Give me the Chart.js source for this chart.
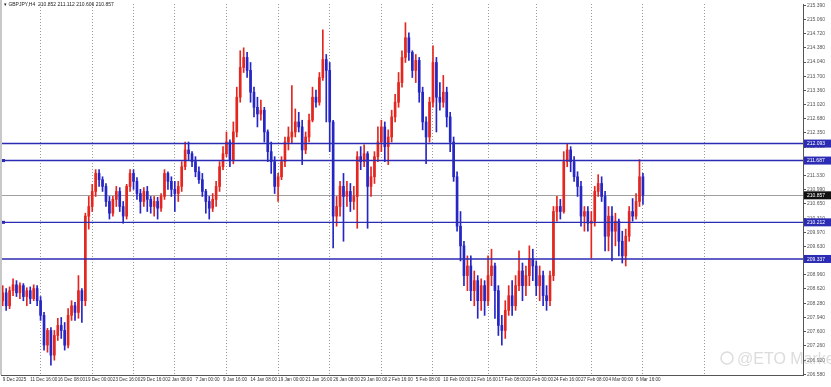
<!DOCTYPE html>
<html>
<head>
<meta charset="utf-8">
<script src="https://cdn.jsdelivr.net/npm/chart.js@4.4.1/dist/chart.umd.min.js"></script>
<style>
  html, body { margin: 0; padding: 0; background: #fff; }
  #chart { display: block; }
</style>
</head>
<body>
<canvas id="chart" width="831" height="387"></canvas>
<script>
// GBPJPY H4, each candle here = two H4 bars
const symbol = "GBPJPY,H4";
const headerPrices = ["210.852", "211.112", "210.606", "210.857"];

const open0 = 208.34;
const closes = [
    208.53, 208.22, 208.58, 208.72, 208.53, 208.70, 208.44, 208.58, 208.39, 208.63,
    208.34, 207.99, 207.28, 207.63, 207.04, 207.51, 207.75, 207.63, 207.28, 207.99,
    208.22, 208.06, 208.58, 208.34, 210.36, 210.59, 210.95, 211.38, 211.23, 211.07,
    210.71, 210.43, 210.76, 210.95, 210.59, 210.36, 211.07, 211.38, 211.19, 210.90,
    210.71, 210.95, 210.76, 210.59, 210.71, 210.55, 210.83, 211.38, 211.19, 211.00,
    210.90, 211.07, 211.54, 211.94, 211.85, 211.66, 211.42, 211.23, 210.95, 210.71,
    210.55, 210.76, 211.07, 211.54, 211.85, 212.13, 211.71, 212.37, 213.20, 213.91,
    214.15, 213.84, 213.32, 212.96, 212.80, 212.89, 212.37, 211.90, 211.66, 211.07,
    211.30, 211.66, 212.13, 212.25, 212.37, 212.61, 212.49, 211.94, 212.25, 212.65,
    213.20, 213.08, 213.67, 214.10, 213.84, 212.61, 210.36, 210.59, 211.07, 210.83,
    210.95, 210.71, 210.83, 211.78, 211.66, 211.85, 211.07, 211.30, 211.78, 212.13,
    212.49, 212.02, 212.25, 212.73, 213.08, 213.55, 214.15, 214.62, 214.27, 213.84,
    214.08, 213.32, 212.61, 212.25, 213.08, 214.03, 213.20, 213.08, 213.32, 212.73,
    212.13, 211.30, 210.12, 209.65, 208.94, 209.17, 208.58, 208.82, 208.34, 208.70,
    208.34, 208.94, 209.17, 208.58, 207.75, 207.63, 208.11, 208.46, 208.22, 208.70,
    209.05, 208.70, 208.94, 209.34, 209.17, 208.70, 208.94, 208.46, 208.34, 208.94,
    210.47, 210.59, 210.47, 211.66, 211.94, 211.66, 211.30, 211.07, 210.36, 210.47,
    210.19, 210.24, 210.95, 211.14, 210.83, 209.88, 210.36, 210.00, 210.24, 209.76,
    209.41, 209.88, 210.47, 210.36, 210.71, 211.30, 210.86
];
const highs = [
    208.70, 208.63, 208.67, 208.86, 208.82, 208.77, 208.75, 208.65, 208.67, 208.72,
    208.70, 208.44, 208.06, 207.68, 207.70, 207.63, 207.92, 207.94, 207.82, 208.15,
    208.34, 208.30, 208.94, 208.63, 210.43, 210.83, 211.12, 211.47, 211.47, 211.30,
    211.14, 210.83, 210.83, 211.07, 211.04, 210.71, 211.12, 211.47, 211.47, 211.28,
    211.00, 211.04, 211.07, 210.83, 210.83, 210.81, 210.90, 211.47, 211.42, 211.30,
    211.19, 211.19, 211.66, 212.13, 212.13, 211.90, 211.78, 211.54, 211.38, 211.00,
    210.83, 210.90, 211.19, 211.66, 212.02, 212.37, 212.18, 212.61, 213.44, 214.31,
    214.38, 214.27, 214.03, 213.44, 213.20, 213.13, 212.96, 212.42, 212.13, 211.78,
    211.38, 211.78, 212.25, 212.49, 213.48, 212.92, 212.84, 212.65, 212.37, 212.80,
    213.44, 213.37, 213.79, 214.81, 214.22, 214.03, 212.65, 210.83, 211.19, 211.38,
    211.19, 211.14, 211.07, 211.90, 212.02, 212.06, 211.90, 211.54, 211.90, 212.49,
    212.65, 212.61, 212.42, 212.89, 213.27, 213.79, 214.31, 214.98, 214.74, 214.31,
    214.22, 214.15, 213.44, 212.73, 213.20, 214.43, 214.15, 213.55, 213.72, 213.44,
    212.84, 212.25, 211.42, 210.47, 209.76, 209.41, 209.41, 209.05, 208.94, 208.86,
    208.82, 209.41, 209.57, 209.24, 208.70, 207.99, 208.34, 208.70, 208.82, 208.94,
    209.53, 209.24, 209.17, 209.65, 209.57, 209.29, 209.17, 209.05, 208.70, 209.05,
    210.59, 210.83, 210.76, 211.90, 212.09, 212.02, 211.78, 211.42, 211.19, 210.59,
    210.59, 210.47, 211.07, 211.35, 211.30, 210.95, 210.59, 210.59, 210.43, 210.29,
    210.00, 210.05, 210.59, 210.78, 210.90, 211.71, 211.38
];
const lows = [
    208.22, 208.11, 208.15, 208.46, 208.44, 208.39, 208.34, 208.22, 208.27, 208.34,
    208.22, 207.87, 207.16, 207.11, 206.80, 206.92, 207.39, 207.44, 207.16, 207.21,
    207.87, 207.87, 207.92, 207.82, 208.22, 210.05, 210.47, 210.83, 211.07, 210.95,
    210.59, 210.29, 210.36, 210.59, 210.47, 210.19, 210.29, 210.95, 211.00, 210.76,
    210.43, 210.59, 210.47, 210.43, 210.36, 210.29, 210.47, 210.76, 211.00, 210.83,
    210.47, 210.71, 210.95, 211.47, 211.71, 211.54, 211.30, 211.14, 210.83, 210.43,
    210.29, 210.47, 210.59, 210.95, 211.47, 211.78, 211.54, 211.61, 212.25, 213.08,
    213.79, 213.67, 213.08, 212.73, 212.49, 212.65, 212.13, 211.66, 211.38, 210.90,
    210.71, 211.23, 211.54, 211.94, 212.09, 212.25, 212.37, 211.59, 211.85, 212.13,
    212.61, 212.96, 213.01, 213.60, 212.61, 211.90, 209.60, 210.12, 210.36, 209.76,
    210.59, 210.47, 210.52, 210.07, 211.47, 211.54, 210.07, 210.83, 211.14, 211.66,
    211.90, 211.66, 211.59, 212.13, 212.61, 212.96, 213.44, 214.03, 214.08, 213.67,
    213.55, 213.08, 212.42, 211.61, 212.13, 212.96, 212.37, 212.89, 212.96, 212.49,
    211.90, 211.19, 210.00, 209.29, 208.70, 208.58, 208.34, 208.22, 207.92, 208.11,
    207.99, 208.22, 208.70, 207.92, 207.51, 207.28, 207.44, 207.99, 207.99, 208.11,
    208.58, 208.34, 208.46, 208.70, 208.82, 208.46, 208.34, 208.22, 208.11, 208.22,
    208.82, 210.24, 210.29, 210.43, 211.54, 211.42, 211.19, 210.83, 210.12, 210.00,
    210.00, 209.36, 210.12, 210.83, 210.71, 209.53, 209.53, 209.29, 209.65, 209.41,
    209.24, 209.17, 209.76, 210.24, 210.29, 210.59, 210.64
];

// time axis labels, one every 8 candles
const dateLabels = [
    "9 Dec 2025", "11 Dec 16:00", "16 Dec 08:00", "19 Dec 00:00", "23 Dec 16:00", "29 Dec 16:00",
    "2 Jan 08:00", "7 Jan 00:00", "9 Jan 16:00", "14 Jan 08:00", "19 Jan 00:00", "21 Jan 16:00",
    "26 Jan 08:00", "29 Jan 00:00", "2 Feb 16:00", "5 Feb 08:00", "10 Feb 00:00", "12 Feb 16:00",
    "17 Feb 08:00", "20 Feb 00:00", "24 Feb 16:00", "27 Feb 08:00", "4 Mar 00:00", "6 Mar 16:00"
];
const labelEvery = 8;
const totalSlots = 233;                 // candles + empty space on the right
const gridCandles = [11, 26, 38, 50, 65, 80, 95, 110, 125, 141, 155, 171, 186, 204];

const yTicks = [
    206.580, 206.920, 207.260, 207.600, 207.940, 208.280, 208.620, 208.960, 209.300,
    209.630, 209.970, 210.310, 210.650, 210.990, 211.330, 211.670, 212.010, 212.350,
    212.680, 213.020, 213.360, 213.700, 214.040, 214.380, 214.720, 215.060, 215.390
];
const yMin = 206.566;
const yMax = 215.426;

const levels = [212.093, 211.687, 210.212, 209.337];
const anchoredLevels = [1, 2];
const lastPrice = 210.857;

const bullColor = "#e3261f";
const bearColor = "#2626c4";
const levelColor = "#2b2bb3";

const opens = closes.map((c, i) => i === 0 ? open0 : closes[i - 1]);
const candleColor = (i) => closes[i] >= opens[i] ? bullColor : bearColor;

const labels = [];
for (let i = 0; i < totalSlots; i++) {
    labels.push(i % labelEvery === 0 && i / labelEvery < dateLabels.length ? dateLabels[i / labelEvery] : "");
}

const overlay = {
    id: "overlay",
    beforeDatasetsDraw(chart) {
        const ctx = chart.ctx;
        const area = chart.chartArea;
        const y = chart.scales.y.getPixelForValue(lastPrice);
        ctx.save();
        ctx.strokeStyle = "#a0a0a0";
        ctx.lineWidth = 1;
        ctx.beginPath();
        ctx.moveTo(area.left, Math.round(y) + 0.5);
        ctx.lineTo(area.right, Math.round(y) + 0.5);
        ctx.stroke();
        ctx.restore();
    },
    afterDatasetsDraw(chart) {
        const ctx = chart.ctx;
        const area = chart.chartArea;
        const ys = chart.scales.y;
        ctx.save();
        ctx.strokeStyle = levelColor;
        ctx.lineWidth = 1.4;
        levels.forEach((v, i) => {
            const y = ys.getPixelForValue(v);
            ctx.beginPath();
            ctx.moveTo(area.left - 1, y);
            ctx.lineTo(area.right, y);
            ctx.stroke();
            if (anchoredLevels.includes(i)) {
                ctx.fillStyle = levelColor;
                ctx.fillRect(area.left + 1, y - 1.5, 3, 3);
            }
        });
        ctx.restore();
    },
    afterDraw(chart) {
        const ctx = chart.ctx;
        const area = chart.chartArea;
        const ys = chart.scales.y;
        ctx.save();
        // price tags on the axis
        ctx.font = "5px 'Liberation Sans'";
        ctx.textBaseline = "middle";
        ctx.textAlign = "left";
        levels.forEach((v) => {
            const y = ys.getPixelForValue(v);
            ctx.fillStyle = levelColor;
            ctx.fillRect(area.right + 1, y - 4, 27, 8);
            ctx.fillStyle = "#ffffff";
            ctx.fillText(v.toFixed(3), area.right + 4, y + 0.5);
        });
        const yl = ys.getPixelForValue(lastPrice);
        ctx.fillStyle = "#111111";
        ctx.fillRect(area.right + 1, yl - 4, 27, 8);
        ctx.fillStyle = "#ffffff";
        ctx.fillText(lastPrice.toFixed(3), area.right + 4, yl + 0.5);

        // window edge
        ctx.fillStyle = "#c8c8c8";
        ctx.fillRect(0, 0, 2, area.bottom);

        // header
        ctx.fillStyle = "#222222";
        ctx.font = "5px 'Liberation Sans'";
        ctx.fillText("\u25BE " + symbol + "  " + headerPrices.join(" "), 4, 5);

        // watermark
        ctx.fillStyle = "rgba(185,185,185,0.5)";
        ctx.font = "16px 'Liberation Sans'";
        ctx.textBaseline = "alphabetic";
        ctx.fillText("@ETO Markets", 737, 364);
        ctx.strokeStyle = "rgba(185,185,185,0.5)";
        ctx.lineWidth = 1.5;
        ctx.beginPath();
        ctx.arc(727, 358, 6, 0, Math.PI * 2);
        ctx.stroke();
        ctx.restore();
    }
};

new Chart(document.getElementById("chart"), {
    type: "bar",
    data: {
        labels: labels,
        datasets: [
            {
                label: "wick",
                data: lows.map((l, i) => [l, highs[i]]),
                backgroundColor: closes.map((c, i) => candleColor(i)),
                barThickness: 1,
                grouped: false,
                order: 2,
            },
            {
                label: "body",
                data: opens.map((o, i) => [o, closes[i]]),
                backgroundColor: closes.map((c, i) => candleColor(i)),
                barThickness: 2,
                minBarLength: 1,
                grouped: false,
                order: 1,
            },
        ],
    },
    options: {
        responsive: false,
        animation: false,
        devicePixelRatio: 1,
        layout: { padding: { left: 1, top: 1, right: 0, bottom: 0 } },
        plugins: { legend: { display: false }, tooltip: { enabled: false } },
        scales: {
            x: {
                offset: true,
                grid: {
                    offset: false,
                    drawTicks: false,
                    lineWidth: 1,
                    color: (ctx) => gridCandles.includes(ctx.index) ? "#9a9a9a" : "rgba(0,0,0,0)",
                },
                border: { display: true, color: "#555555", dash: [1, 2] },
                ticks: {
                    autoSkip: false,
                    maxRotation: 0,
                    align: "start",
                    padding: 2,
                    color: "#333333",
                    font: { family: "'Liberation Sans'", size: 4.6 },
                    callback: (v, i) => labels[i],
                },
                afterFit: (scale) => { scale.height = 12; },
            },
            y: {
                position: "right",
                min: yMin,
                max: yMax,
                afterBuildTicks: (scale) => { scale.ticks = yTicks.map((v) => ({ value: v })); },
                grid: { drawOnChartArea: false, drawTicks: true, tickLength: 3, color: "#555555" },
                border: { display: true, color: "#555555" },
                ticks: {
                    padding: 1,
                    color: "#555555",
                    font: { family: "'Liberation Sans'", size: 5 },
                    callback: (v) => Number(v).toFixed(3),
                },
                afterFit: (scale) => { scale.width = 28; },
            },
        },
    },
    plugins: [overlay],
});
</script>
</body>
</html>
